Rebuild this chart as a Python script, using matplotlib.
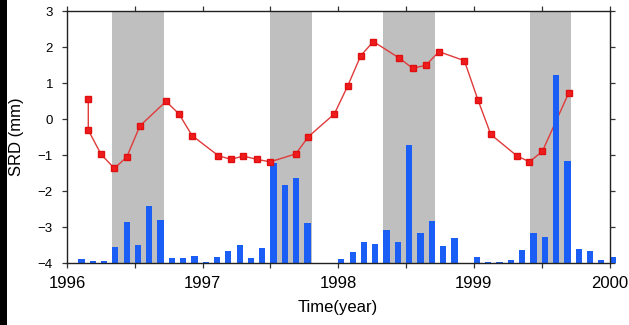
import numpy as np
import pandas as pd
import matplotlib
matplotlib.use("Agg")
import matplotlib.pyplot as plt
from matplotlib.patches import Rectangle
from matplotlib.ticker import MultipleLocator, FuncFormatter

plt.rcParams['font.family'] = ['Liberation Sans', 'DejaVu Sans']

# Seasonal SRD displacement (mm) at irregular epochs (decimal year)
srd_time = [1996.157, 1996.157, 1996.251, 1996.349, 1996.440, 1996.538,
            1996.730, 1996.826, 1996.922, 1997.116, 1997.209, 1997.300,
            1997.399, 1997.497, 1997.687, 1997.780, 1997.971, 1998.070,
            1998.166, 1998.259, 1998.451, 1998.548, 1998.645, 1998.743,
            1998.930, 1999.029, 1999.125, 1999.316, 1999.409, 1999.505,
            1999.700]
srd_value = [0.55, -0.31, -0.98, -1.37, -1.06, -0.19,
             0.49, 0.14, -0.46, -1.02, -1.12, -1.03,
             -1.12, -1.19, -0.97, -0.49, 0.14, 0.92,
             1.76, 2.15, 1.69, 1.41, 1.49, 1.87,
             1.62, 0.54, -0.43, -1.02, -1.19, -0.90,
             0.73]

# Monthly bars (top of bar on the SRD scale, drawn up from -4)
bar_month = pd.date_range("1996-02-01", periods=48, freq="MS")
bar_top = [-3.90, -3.94, -3.95, -3.56, -2.86, -3.49, -2.42, -2.81,
           -3.87, -3.85, -3.81, -3.96, -3.82, -3.68, -3.49, -3.85,
           -3.57, -1.23, -1.84, -1.65, -2.90, -4.00, -4.00, -3.90,
           -3.69, -3.43, -3.46, -3.09, -3.43, -0.72, -3.16, -2.83,
           -3.52, -3.30, -4.00, -3.83, -3.98, -3.98, -3.92, -3.64,
           -3.16, -3.29, 1.22, -1.17, -3.62, -3.67, -3.93, -3.83]
bar_base = -4.0

# Shaded periods (decimal year)
shade_spans = [(1996.333, 1996.715), (1997.497, 1997.805),
               (1998.333, 1998.715), (1999.417, 1999.715)]


def to_decimal_year(d):
    return d.year + (d.month - 1) / 12.0


bar_x = np.array([to_decimal_year(d) for d in bar_month])
bar_h = np.array(bar_top) - bar_base

fig = plt.figure(figsize=(6.29, 3.25), dpi=100)
fig.patches.append(Rectangle((0, 0), 7 / 629, 1, transform=fig.transFigure,
                             facecolor='black', edgecolor='none', zorder=0))

ax = fig.add_axes([67 / 629, 62 / 325, 542.5 / 629, 252 / 325])

for x0, x1 in shade_spans:
    ax.axvspan(x0, x1, facecolor='#bfbfbf', edgecolor='none', zorder=1)

ax.plot(srd_time, srd_value, color='#e03a3a', lw=1.0, zorder=2)
bars = ax.bar(bar_x, bar_h, bottom=bar_base, width=0.046, align='edge',
              color='#1b5ef5', edgecolor='none', zorder=3)
for b in bars:
    b.set_clip_on(False)
ax.plot(srd_time, srd_value, ls='none', marker='s', markersize=4.2,
        markerfacecolor='#ee1c1c', markeredgecolor='#e01010', zorder=4)

ax.set_xlim(1996, 2000)
ax.set_ylim(-4, 3)

ax.xaxis.set_major_locator(MultipleLocator(0.5))
ax.xaxis.set_major_formatter(FuncFormatter(
    lambda v, p: f"{int(round(v))}" if abs(v - round(v)) < 1e-6 else ""))
ax.yaxis.set_major_locator(MultipleLocator(1))

ax.tick_params(axis='both', direction='out', length=3.6, width=0.9,
               color='#333333', top=True, right=True)
ax.tick_params(axis='x', labelsize=12, pad=6)
ax.tick_params(axis='y', labelsize=9.5, pad=6.5)

for s in ax.spines.values():
    s.set_linewidth(1.0)
    s.set_color('#222222')
    s.set_zorder(5)

ax.set_xlabel("Time(year)", fontsize=12, labelpad=6)
ax.set_ylabel("SRD (mm)", fontsize=12, labelpad=10)

fig.savefig("out.png", dpi=100)
